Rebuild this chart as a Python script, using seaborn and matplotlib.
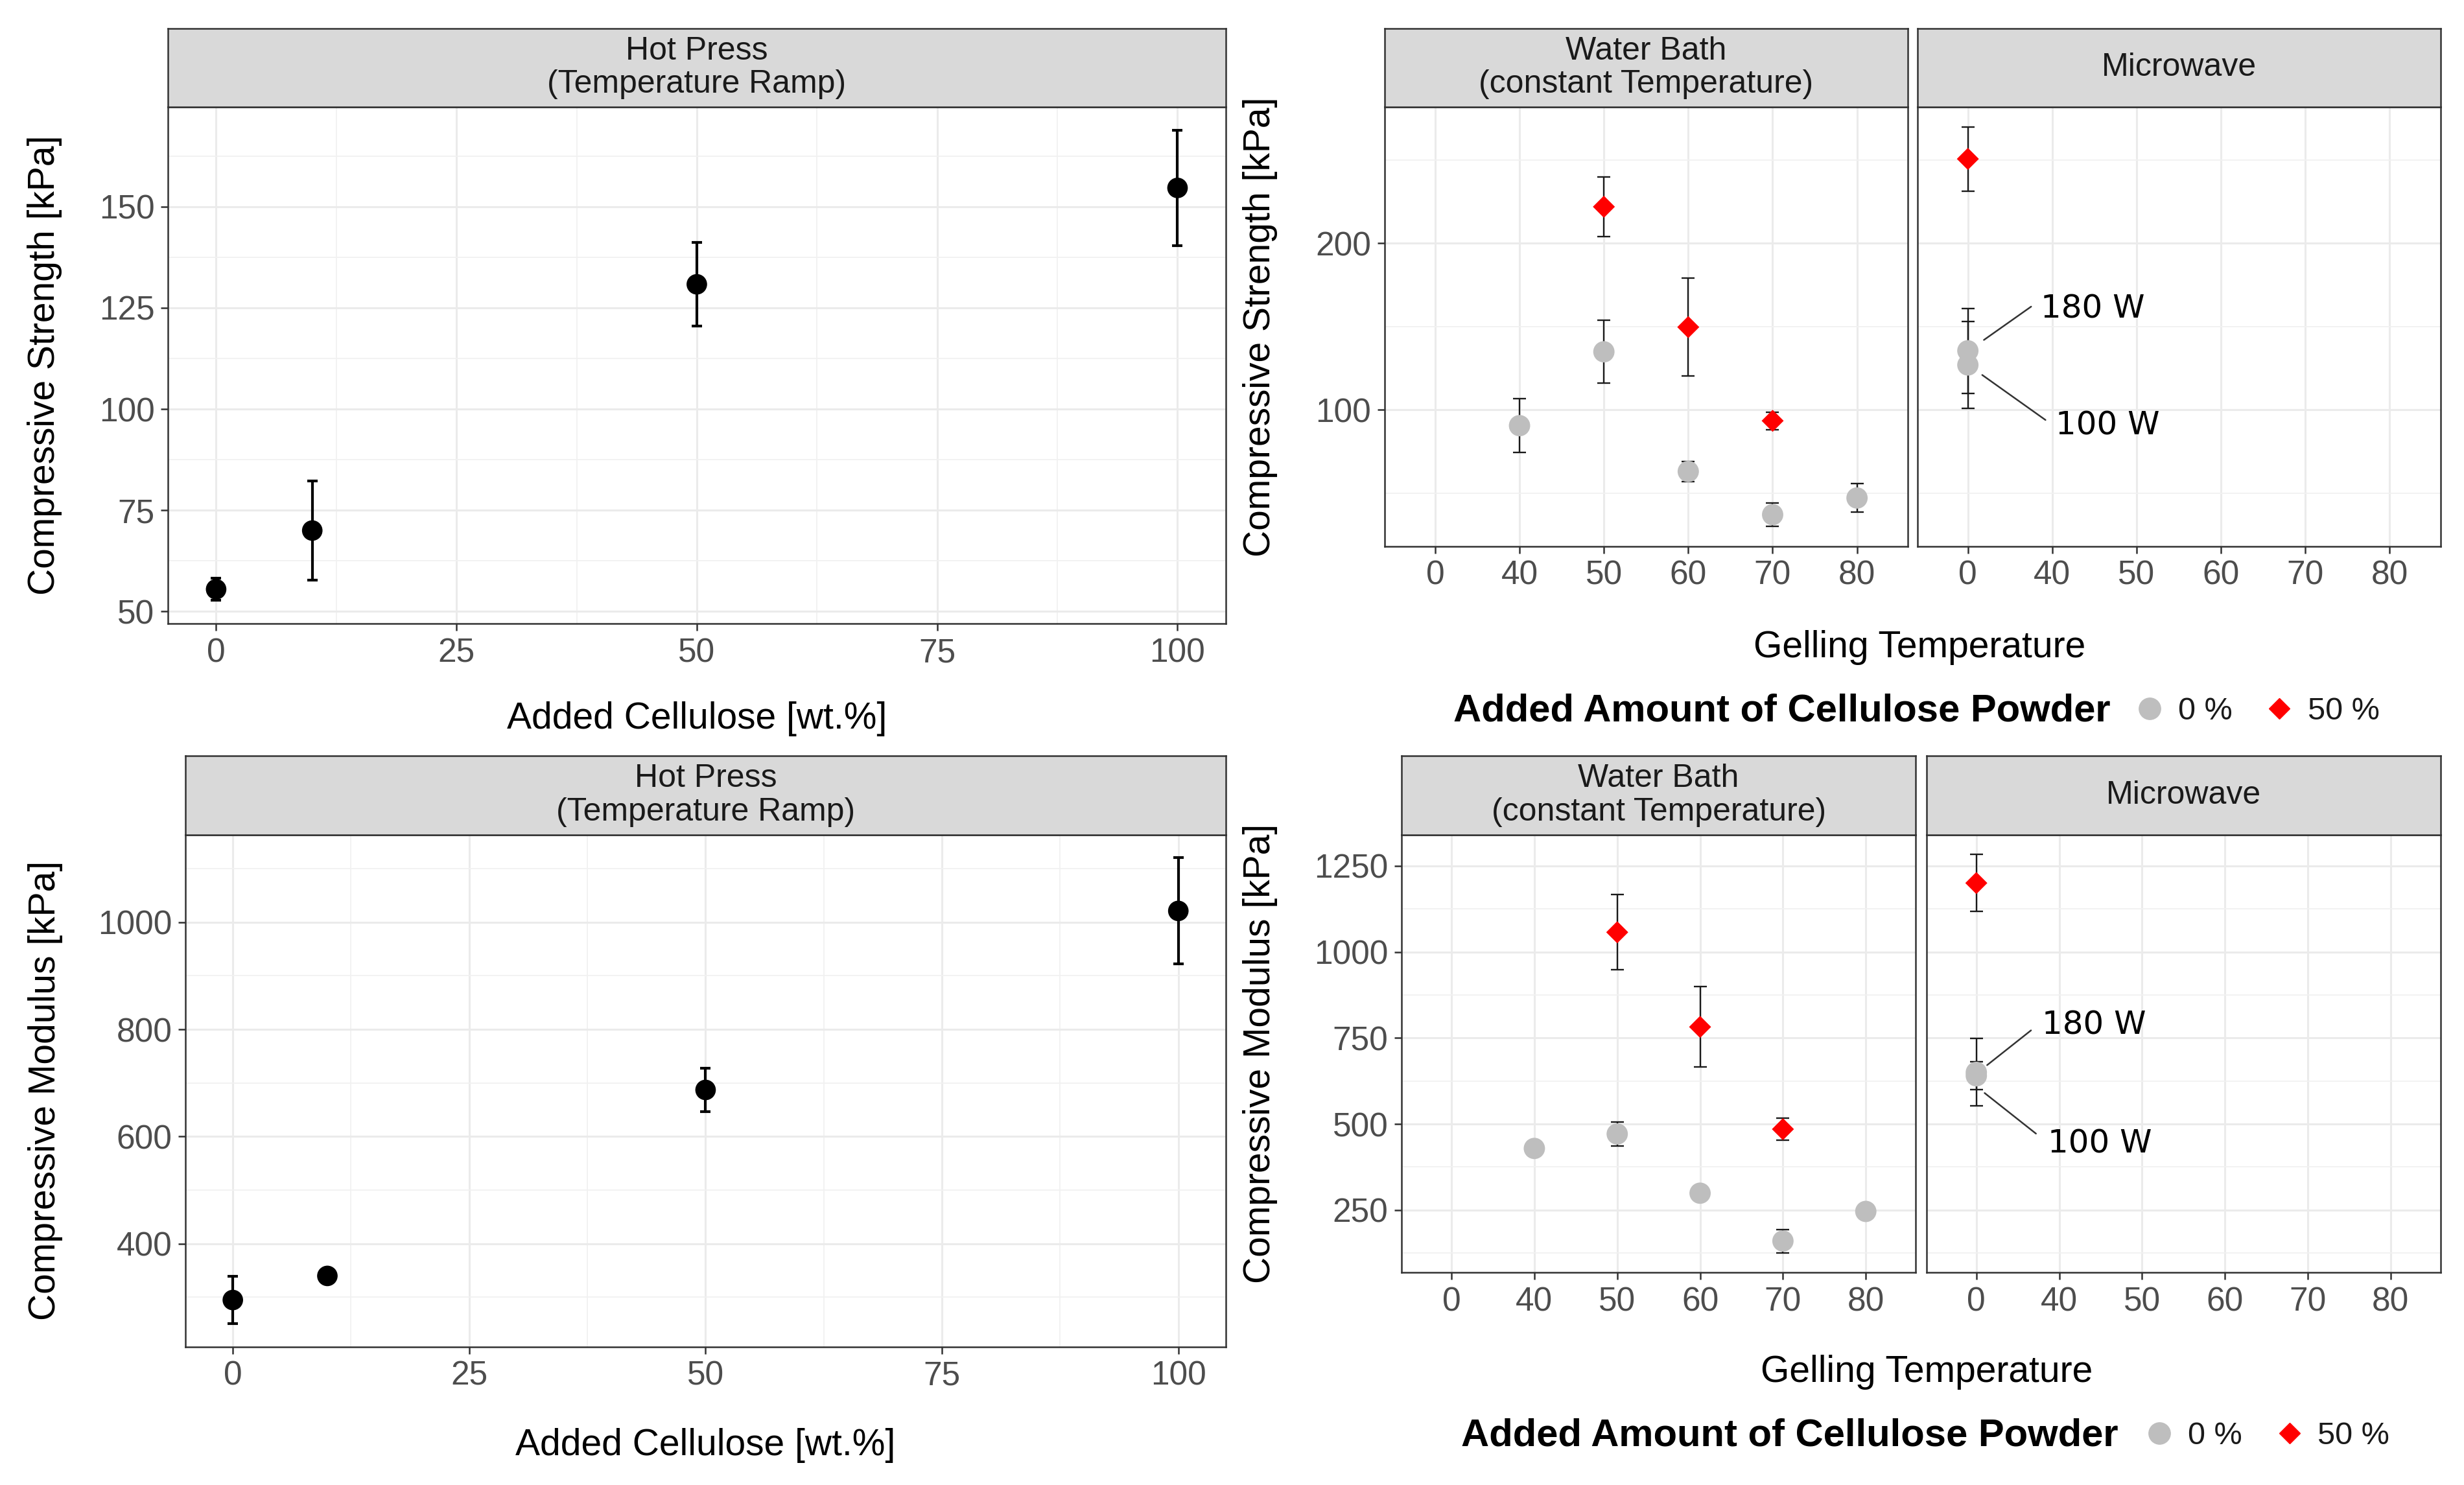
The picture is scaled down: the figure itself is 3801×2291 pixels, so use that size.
import matplotlib
matplotlib.use("Agg")
import numpy as np
import pandas as pd
import matplotlib.pyplot as plt
import seaborn as sns
from matplotlib.lines import Line2D

# ---- Hot press (temperature ramp) ----
hp_cellulose = [0, 10, 50, 100]
hp_strength = [55.5, 70.0, 130.8, 154.6]
hp_strength_sd = [2.7, 12.2, 10.3, 14.2]
hp_modulus = [295, 340, 687, 1021]
hp_modulus_sd = [44, 8, 40, 99]

# ---- Water bath / microwave ----
temp_levels = ["0", "40", "50", "60", "70", "80"]

wb_temp_0 = ["40", "50", "60", "70", "80"]
wb_strength_0 = [90.6, 134.9, 63.1, 37.2, 47.2]
wb_strength_0_sd = [16.2, 18.8, 6.0, 7.1, 8.5]
wb_modulus_0 = [429, 471, 299, 160, 246]
wb_modulus_0_sd = [5, 35, 5, 34, 5]

wb_temp_50 = ["50", "60", "70"]
wb_strength_50 = [221.9, 149.7, 93.5]
wb_strength_50_sd = [17.9, 29.4, 5.2]
wb_modulus_50 = [1057, 782, 485]
wb_modulus_50_sd = [109, 117, 32]

mw_power = ["180 W", "100 W"]
mw_temp_0 = ["0", "0"]
mw_strength_0 = [135.5, 127.0]
mw_strength_0_sd = [25.5, 26.0]
mw_modulus_0 = [650, 640]
mw_modulus_0_sd = [98, 40]

mw_temp_50 = ["0"]
mw_strength_50 = [250.6]
mw_strength_50_sd = [19.2]
mw_modulus_50 = [1200]
mw_modulus_50_sd = [83]

GREY = "#BEBEBE"
RED = "#FF0000"
BORDER = "#333333"

sns.set_theme(style="white")
plt.rcParams["font.family"] = ["Liberation Sans", "DejaVu Sans"]

fig = plt.figure(figsize=(38.01, 22.91), dpi=100)
STRIP_H = 0.0529


def expand(lo, hi, mult=0.05):
    r = hi - lo
    return lo - mult * r, hi + mult * r


def style_axes(ax):
    ax.set_facecolor("white")
    for sp in ax.spines.values():
        sp.set_visible(True)
        sp.set_color(BORDER)
        sp.set_linewidth(1.8)
    ax.grid(True, which="major", color="#EBEBEB", lw=2.2)
    ax.grid(True, which="minor", color="#F1F1F1", lw=1.3)
    ax.set_axisbelow(True)
    ax.tick_params(which="major", length=8, width=1.8, color=BORDER,
                   labelsize=37, labelcolor="#4D4D4D", pad=7,
                   bottom=True, left=True)
    ax.tick_params(which="minor", length=0)


def add_strip(rect, text):
    left, bottom, width, height = rect
    sax = fig.add_axes([left, bottom + height, width, STRIP_H])
    sax.set_facecolor("#D9D9D9")
    sax.set_xticks([])
    sax.set_yticks([])
    for sp in sax.spines.values():
        sp.set_visible(True)
        sp.set_color(BORDER)
        sp.set_linewidth(1.8)
    sax.text(0.5, 0.5, text, ha="center", va="center", fontsize=36,
             color="#1A1A1A", linespacing=1.15, transform=sax.transAxes)
    return sax


def hot_press_panel(rect, values, sds, ylabel, yticks, yminor, ylab_x, xlab_y):
    ax = fig.add_axes(rect)
    df = pd.DataFrame({"cellulose": hp_cellulose, "value": values, "sd": sds})
    ax.errorbar(df["cellulose"], df["value"], yerr=df["sd"], fmt="none",
                ecolor="black", elinewidth=3.0, capsize=6, capthick=3.0, zorder=2)
    sns.scatterplot(data=df, x="cellulose", y="value", ax=ax, color="black",
                    s=520, edgecolor="none", zorder=3, legend=False)
    style_axes(ax)
    ax.set_xlim(expand(min(hp_cellulose), max(hp_cellulose)))
    lo = (df["value"] - df["sd"]).min()
    hi = (df["value"] + df["sd"]).max()
    ax.set_ylim(expand(lo, hi))
    ax.set_xticks([0, 25, 50, 75, 100])
    ax.set_xticks([12.5, 37.5, 62.5, 87.5], minor=True)
    ax.set_yticks(yticks)
    ax.set_yticks(yminor, minor=True)
    ax.set_xlabel("Added Cellulose [wt.%]", fontsize=41, color="black")
    ax.set_ylabel(ylabel, fontsize=41, color="black")
    ax.xaxis.set_label_coords(0.5, xlab_y)
    ax.yaxis.set_label_coords(ylab_x, 0.5)
    add_strip(rect, "Hot Press\n(Temperature Ramp)")
    return ax


def draw_group(ax, temps, values, sds, color, marker, size):
    df = pd.DataFrame({"temp": temps, "value": values, "sd": sds})
    df["pos"] = [temp_levels.index(t) for t in df["temp"]]
    ax.errorbar(df["pos"], df["value"], yerr=df["sd"], fmt="none",
                ecolor="#1A1A1A", elinewidth=1.7, capsize=7, capthick=1.7, zorder=2)
    sns.scatterplot(data=df, x="pos", y="value", ax=ax, color=color, marker=marker,
                    s=size, edgecolor="none", zorder=3, legend=False)


def right_panels(rect1, rect2, wb0, wb50, mw0, mw50, ylabel, yticks, yminor,
                 ylab_x, xlab_xy, ann):
    ax1 = fig.add_axes(rect1)
    ax2 = fig.add_axes(rect2)
    draw_group(ax1, wb_temp_0, wb0[0], wb0[1], GREY, "o", 560)
    draw_group(ax1, wb_temp_50, wb50[0], wb50[1], RED, "D", 300)
    draw_group(ax2, mw_temp_0, mw0[0], mw0[1], GREY, "o", 560)
    draw_group(ax2, mw_temp_50, mw50[0], mw50[1], RED, "D", 300)

    allv = np.concatenate([np.array(g[0]) for g in (wb0, wb50, mw0, mw50)])
    alls = np.concatenate([np.array(g[1]) for g in (wb0, wb50, mw0, mw50)])
    ylim = expand((allv - alls).min(), (allv + alls).max())
    for ax in (ax1, ax2):
        style_axes(ax)
        ax.set_xlim(-0.6, len(temp_levels) - 0.4)
        ax.set_ylim(ylim)
        ax.set_xticks(range(len(temp_levels)))
        ax.set_xticklabels(temp_levels)
        ax.set_yticks(yticks)
        ax.set_yticks(yminor, minor=True)
        ax.set_xlabel("")
        ax.set_ylabel("")
    ax2.tick_params(axis="y", which="both", left=False, labelleft=False)
    ax1.set_ylabel(ylabel, fontsize=41, color="black")
    ax1.yaxis.set_label_coords(ylab_x, 0.5)

    for label, (x0, y0, x1, y1, tx, ty) in zip(mw_power, ann):
        ax2.plot([x0, x1], [y0, y1], color="#333333", lw=1.8, zorder=4)
        ax2.text(tx, ty, label, ha="left", va="center", fontsize=36,
                 color="black", family="DejaVu Sans", zorder=5)

    fig.text(xlab_xy[0], xlab_xy[1], "Gelling Temperature", ha="center",
             va="center", fontsize=41, color="black")
    add_strip(rect1, "Water Bath\n(constant Temperature)")
    add_strip(rect2, "Microwave")
    return ax1, ax2


def add_legend(title_x, legend_x, y):
    fig.text(title_x, y, "Added Amount of Cellulose Powder", ha="right",
             va="center", fontsize=43, fontweight="bold", color="black")
    handles = [
        Line2D([], [], ls="none", marker="o", color=GREY, markersize=24),
        Line2D([], [], ls="none", marker="D", color=RED, markersize=16),
    ]
    fig.legend(handles, ["0 %", "50 %"], loc="center left",
               bbox_to_anchor=(legend_x, y), ncol=2, frameon=False,
               fontsize=35, handletextpad=0.4, columnspacing=1.0,
               handlelength=1.0, borderaxespad=0, borderpad=0,
               labelcolor="#1A1A1A")


# ---- left column ----
hot_press_panel([0.0682, 0.580, 0.4292, 0.348], hp_strength, hp_strength_sd,
                "Compressive Strength [kPa]", [50, 75, 100, 125, 150],
                [62.5, 87.5, 112.5, 137.5, 162.5], -0.100, -0.150)
hot_press_panel([0.0753, 0.093, 0.4221, 0.345], hp_modulus, hp_modulus_sd,
                "Compressive Modulus [kPa]", [400, 600, 800, 1000],
                [300, 500, 700, 900, 1100], -0.118, -0.158)

# ---- right column ----
right_panels([0.5619, 0.632, 0.2123, 0.296], [0.7781, 0.632, 0.2123, 0.296],
             (wb_strength_0, wb_strength_0_sd), (wb_strength_50, wb_strength_50_sd),
             (mw_strength_0, mw_strength_0_sd), (mw_strength_50, mw_strength_50_sd),
             "Compressive Strength [kPa]", [100, 200], [50, 150, 250],
             -0.204, (0.779, 0.564),
             [(0.19, 142, 0.75, 162, 0.86, 160.5),
              (0.17, 121, 0.92, 94, 1.04, 90.5)])
add_legend(0.8565, 0.866, 0.521)

right_panels([0.5689, 0.143, 0.2085, 0.295], [0.7819, 0.143, 0.2085, 0.295],
             (wb_modulus_0, wb_modulus_0_sd), (wb_modulus_50, wb_modulus_50_sd),
             (mw_modulus_0, mw_modulus_0_sd), (mw_modulus_50, mw_modulus_50_sd),
             "Compressive Modulus [kPa]", [250, 500, 750, 1000, 1250],
             [125, 375, 625, 875, 1125],
             -0.242, (0.782, 0.076),
             [(0.13, 671, 0.66, 772, 0.79, 788),
              (0.10, 590, 0.72, 472, 0.86, 443)])
add_legend(0.8597, 0.870, 0.033)

fig.savefig("out.png", dpi=100, facecolor="white")
